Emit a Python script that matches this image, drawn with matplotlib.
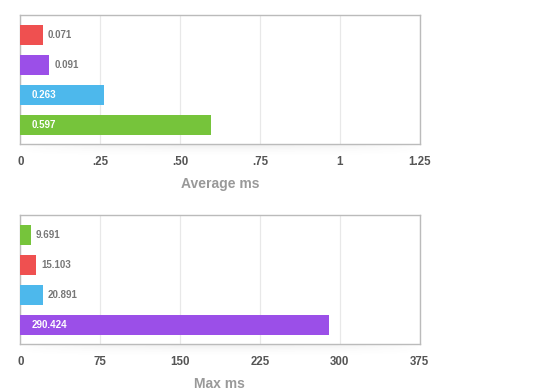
import matplotlib
matplotlib.use("Agg")
import matplotlib.pyplot as plt
import numpy as np

plt.rcParams['font.family'] = ['Liberation Sans', 'DejaVu Sans']

# Data
avg_values = [0.071, 0.091, 0.263, 0.597]
avg_colors = ['#ef5050', '#9b4fe8', '#4db8ec', '#76c43b']
avg_ticks = [0, 0.25, 0.5, 0.75, 1.0, 1.25]
avg_ticklabels = ['0', '.25', '.50', '.75', '1', '1.25']

max_values = [9.691, 15.103, 20.891, 290.424]
max_colors = ['#76c43b', '#ef5050', '#4db8ec', '#9b4fe8']
max_ticks = [0, 75, 150, 225, 300, 375]
max_ticklabels = ['0', '75', '150', '225', '300', '375']

W, H = 560, 390
fig = plt.figure(figsize=(5.6, 3.9), dpi=100)

def shadow(left_px, top_px, width_px, height_px):
    sax = fig.add_axes([left_px / W, 1 - (top_px + height_px) / H, width_px / W, height_px / H])
    sax.set_axis_off()
    nx, ny = 200, 40
    xs = np.linspace(-1, 1, nx)
    ys = np.linspace(0, 1, ny)
    X, Y = np.meshgrid(xs, ys)
    alpha = 0.10 * np.clip(1 - X ** 2, 0, 1) ** 0.6 * (1 - Y) ** 2
    img = np.zeros((ny, nx, 4))
    img[..., :3] = 0.35
    img[..., 3] = alpha
    sax.imshow(img, aspect='auto', extent=[0, 1, 1, 0], interpolation='bilinear')
    sax.set_xlim(0, 1)
    sax.set_ylim(1, 0)

def panel(rect, values, colors, ticks, ticklabels, xlabel, fmt, inside_thresh):
    ax = fig.add_axes(rect)
    y = np.arange(len(values))
    ax.barh(y, values, height=0.667, color=colors, zorder=3)
    ax.set_ylim(3.633, -0.667)
    ax.set_xlim(ticks[0], ticks[-1])
    ax.set_xticks(ticks)
    ax.set_xticklabels(ticklabels)
    ax.set_yticks([])
    ax.tick_params(axis='x', length=0, pad=8.5, labelsize=8.3, labelcolor='#555555')
    for lab in ax.get_xticklabels():
        lab.set_fontweight('bold')
    ax.grid(axis='x', color='#e8e8e8', linewidth=0.9, zorder=0)
    for s in ax.spines.values():
        s.set_color('#bbbbbb')
        s.set_linewidth(1.0)
    ax.set_xlabel(xlabel, fontsize=10, color='#999999', fontweight='bold', labelpad=6.5)
    span = ticks[-1] - ticks[0]
    px = span / (rect[2] * W)
    for yi, v in zip(y, values):
        if v > inside_thresh:
            ax.text(11 * px, yi, fmt.format(v), va='center', ha='left',
                    color='white', fontsize=7, fontweight='bold', zorder=4)
        else:
            ax.text(v + 5 * px, yi, fmt.format(v), va='center', ha='left',
                    color='#777777', fontsize=7, fontweight='bold', zorder=4)
    return ax

shadow(20, 144, 400, 14)
shadow(20, 344, 400, 14)

ax1 = panel([20.3 / W, 1 - 144 / H, 399.2 / W, 129 / H], avg_values, avg_colors,
            avg_ticks, avg_ticklabels, 'Average ms', '{:.3f}', 0.2)
ax2 = panel([20.3 / W, 1 - 344 / H, 399.2 / W, 129 / H], max_values, max_colors,
            max_ticks, max_ticklabels, 'Max ms', '{:.3f}', 100)

fig.savefig('out.png', dpi=100)
